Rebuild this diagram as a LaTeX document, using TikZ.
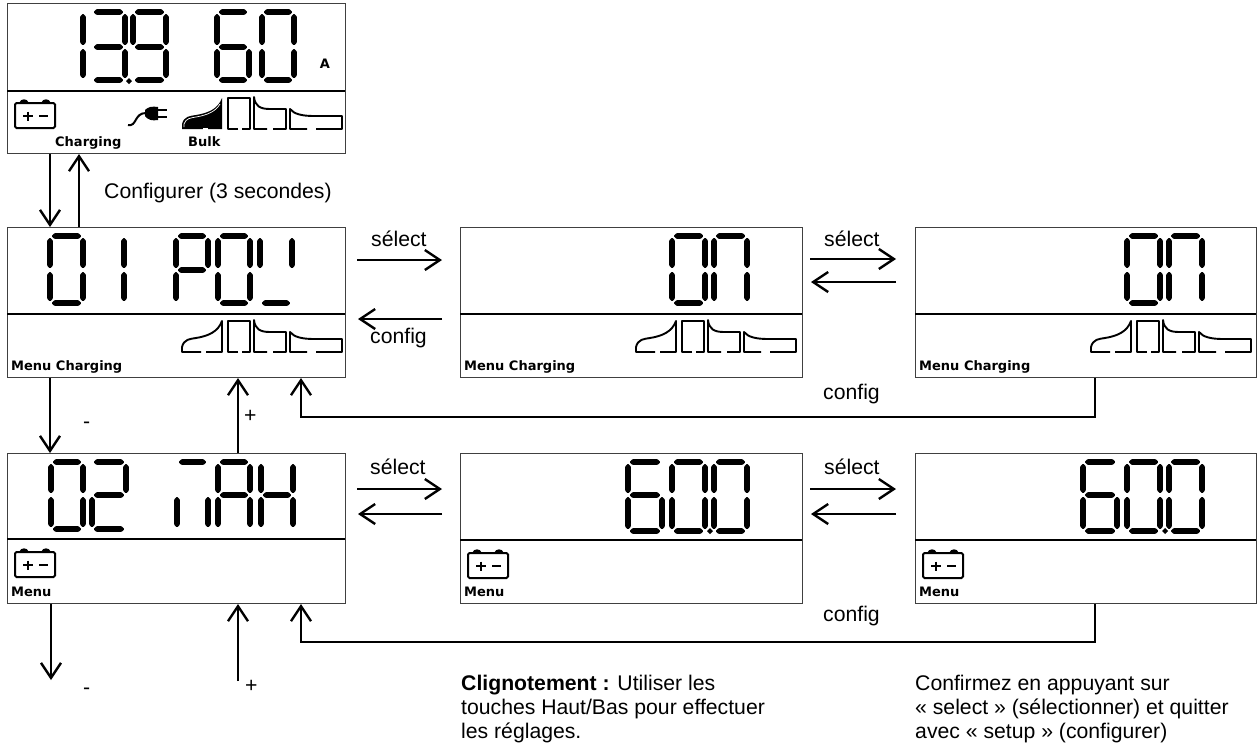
\documentclass[tikz,border=0pt]{standalone}
\usepackage{fontspec}
\setmainfont{Liberation Sans}
\newfontfamily\lcdfont{DejaVu Sans Bold}
\usetikzlibrary{arrows.meta}
\tikzset{
  panel/.style={draw=black!75,line width=1pt,inner sep=0pt,anchor=north west,fill=white,minimum width=#1,minimum height=150pt},
  sg/.style={fill=black,rounded corners=.8pt},
  conn/.style={line width=2.4pt,-{Straight Barb[length=15pt,width=20pt]}},
  divl/.style={line width=2pt},
  lbl/.style={inner sep=0pt,anchor=base west,font=\fontsize{21.2}{24}\selectfont},
  para/.style={inner sep=0pt,anchor=north west,align=left,font=\fontsize{21.2}{24}\selectfont},
  lcd/.style={inner sep=0pt,anchor=base west,font=\lcdfont\fontsize{13}{14}\selectfont},
  icon/.style={line width=1.9pt,line join=round}
}
% hexagonal LCD segments: half-thickness 2.9
\newcommand\sgv[3]{\path[sg] (#1,#2)--(#1+2.9,#2+2.9)--(#1+2.9,#3-2.9)--(#1,#3)--(#1-2.9,#3-2.9)--(#1-2.9,#2+2.9)--cycle;}
\newcommand\sgh[3]{\path[sg] (#2,#1)--(#2+2.9,#1-2.9)--(#3-2.9,#1-2.9)--(#3,#1)--(#3-2.9,#1+2.9)--(#2+2.9,#1+2.9)--cycle;}
\newcommand\segA{\sgh{\yt}{\xl+1.5}{\xr-1.5}}
\newcommand\segB{\sgv{\xr}{\yt+1.5}{\ym-1.5}}
\newcommand\segC{\sgv{\xr}{\ym+1.5}{\yb-1.5}}
\newcommand\segD{\sgh{\yb}{\xl+1.5}{\xr-1.5}}
\newcommand\segE{\sgv{\xl}{\ym+1.5}{\yb-1.5}}
\newcommand\segF{\sgv{\xl}{\yt+1.5}{\ym-1.5}}
\newcommand\segG{\sgh{\ym}{\xl+1.5}{\xr-1.5}}
\newcommand\dgt[6]{\def\xl{#1}\def\xr{#2}\def\yt{#3}\def\ym{#4}\def\yb{#5}%
  \foreach \s in {#6}{\csname seg\s\endcsname}}
\newcommand\dpt[2]{\fill (#1-3,#2)--(#1,#2-3)--(#1+3,#2)--(#1,#2+3)--cycle;}
\newcommand\batt[2]{\begin{scope}[shift={(#1,#2)}]
  \draw[line width=2pt,rounded corners=1.5pt] (0,0) rectangle (40,25);
  \fill (4,0) .. controls (6,-5) and (12,-5) .. (14,0) --cycle;
  \fill (26,0) .. controls (28,-5) and (34,-5) .. (36,0) --cycle;
  \draw[line width=2.4pt] (8,13)--(18,13) (13,8.5)--(13,17.5) (24,13)--(33,13);
\end{scope}}
\newcommand\curves[3]{\begin{scope}[shift={(#1,#2)}]
  \ifnum#3=1
    \fill (0,32)--(0,27) .. controls (2,19) and (8,19) .. (14,18) .. controls (26,16) and (36,12) .. (40,1)--(40,32)--cycle;
    \draw[white,line width=.7pt] (2,30)--(2,27) .. controls (4,21) and (9,21) .. (14,20) .. controls (26,18) and (34,14) .. (38,7);
    \fill[white] (21,30.5) rectangle (26,33);
  \else
    \draw[icon] (19,32)--(0,32)--(0,27) .. controls (2,19) and (8,19) .. (14,18) .. controls (26,16) and (36,12) .. (40,1)--(40,32)--(24,32);
  \fi
  \draw[icon] (56,32)--(46,32)--(46,1)--(68,1)--(68,32)--(60,32);
  \draw[icon] (85,32)--(72,32)--(72,0) .. controls (73,9) and (78,12) .. (88,12)--(104,12)--(104,32)--(91,32);
  \draw[icon] (125,32)--(108,32)--(108,12) .. controls (112,17) and (120,19) .. (132,19)--(160,19)--(160,32)--(134,32);
\end{scope}}
\begin{document}
\begin{tikzpicture}[x=1pt,y=-1pt]
\useasboundingbox (0,0) rectangle (1257,748);
% panels
\node[panel=338pt] (p1) at (7,3) {};
\node[panel=338pt] (p2) at (7,227) {};
\node[panel=338pt] (p3) at (7,453) {};
\node[panel=342pt] (p2m) at (460,227) {};
\node[panel=341pt] (p2r) at (915,227) {};
\node[panel=342pt] (p3m) at (460,453) {};
\node[panel=341pt] (p3r) at (915,453) {};
% dividers
\draw[divl] (7,91)--(345,91);
\draw[divl] (7,314)--(345,314);
\draw[divl] (7,539)--(345,539);
\draw[divl] (460,314)--(802,314);
\draw[divl] (915,314)--(1256,314);
\draw[divl] (460,540)--(802,540);
\draw[divl] (915,540)--(1256,540);
% panel 1 digits
\dgt{50}{83}{12}{47}{80}{B,C}
\dgt{92}{125}{12}{47}{80}{A,B,C,D,G}
\dgt{133}{166}{12}{47}{80}{A,B,C,D,F,G}
\dgt{217}{249}{12}{47}{80}{A,C,D,E,F,G}
\dgt{262}{294}{12}{47}{80}{A,B,C,D,E,F}
\dpt{129}{81}
\node[inner sep=0pt,font=\lcdfont\fontsize{13}{14}\selectfont] (unitA) at (325,64) {A};
% panel 2 digits
\dgt{50}{83}{236}{270}{303}{A,B,C,D,E,F}
\dgt{91}{124}{236}{270}{303}{B,C}
\dgt{176}{208}{236}{270}{303}{A,B,E,F,G}
\dgt{218}{250}{236}{270}{303}{A,B,C,D,E,F}
\dgt{260}{292}{236}{270}{303}{B,D,F}
% panel 3 digits
\dgt{51}{83}{462}{495}{529}{A,B,C,D,E,F}
\dgt{92}{126}{462}{495}{529}{A,B,D,E,G}
\dgt{177}{208}{462}{495}{529}{A,C,E}
\dgt{218}{250}{462}{495}{529}{A,B,C,E,F,G}
\dgt{261}{293}{462}{495}{529}{B,C,E,F,G}
% ON
\dgt{672}{705}{236}{270}{303}{A,B,C,D,E,F}
\dgt{714}{747}{236}{270}{303}{A,B,C,E,F}
\dgt{1127}{1160}{236}{270}{303}{A,B,C,D,E,F}
\dgt{1169}{1202}{236}{270}{303}{A,B,C,E,F}
% 60.0
\dgt{628}{662}{462}{495}{531}{A,C,D,E,F,G}
\dgt{672}{705}{462}{495}{531}{A,B,C,D,E,F}
\dgt{714}{747}{462}{495}{531}{A,B,C,D,E,F}
\dpt{710}{531}
\dgt{1083}{1117}{462}{495}{531}{A,C,D,E,F,G}
\dgt{1127}{1160}{462}{495}{531}{A,B,C,D,E,F}
\dgt{1169}{1202}{462}{495}{531}{A,B,C,D,E,F}
\dpt{1165}{531}
% icons
\batt{15}{103}
\batt{15}{552}
\batt{468}{553}
\batt{923}{553}
\curves{182}{97}{1}
\curves{182}{320}{0}
\curves{636}{320}{0}
\curves{1091}{320}{0}
% plug
\draw[line width=2pt] (128,125) .. controls (137,127) and (134,113) .. (146,113);
\fill (145,110) .. controls (148,107) and (152,106) .. (158,107)--(158,120) .. controls (152,121) and (148,120) .. (145,116)--cycle;
\draw[line width=2.4pt] (157,110)--(167,110) (157,117)--(167,117);
% lcd labels
\node[lcd] (t1a) at (55,146) {Charging};
\node[lcd] (t1b) at (188,146) {Bulk};
\node[lcd] (t2a) at (11,370) {Menu Charging};
\node[lcd] (t2b) at (464,370) {Menu Charging};
\node[lcd] (t2c) at (919,370) {Menu Charging};
\node[lcd] (t3a) at (11,596) {Menu};
\node[lcd] (t3b) at (464,596) {Menu};
\node[lcd] (t3c) at (919,596) {Menu};
% named x positions and free ends
\coordinate (xa) at (50,0);
\coordinate (xb) at (79,0);
\coordinate (xc) at (238,0);
\coordinate (xd) at (301,0);
\coordinate (xe) at (1095,0);
\coordinate (e1) at (51,680);
\coordinate (e2) at (238,681);
\coordinate (r1) at (357,260); \coordinate (r2) at (442,260);
\coordinate (l1) at (442,319); \coordinate (l2) at (358,319);
\coordinate (r3) at (810,259); \coordinate (r4) at (896,259);
\coordinate (l3) at (896,282); \coordinate (l4) at (811,282);
\coordinate (r5) at (357,489); \coordinate (r6) at (442,489);
\coordinate (l5) at (442,514); \coordinate (l6) at (358,514);
\coordinate (r7) at (810,489); \coordinate (r8) at (896,489);
\coordinate (l7) at (896,514); \coordinate (l8) at (811,514);
\coordinate (y1) at (0,417);
\coordinate (y2) at (0,642);
% connectors
\draw[conn] (xa |- p1.south) -- (xa |- p2.north);
\draw[conn] (xb |- p2.north) -- (xb |- p1.south);
\draw[conn] (xa |- p2.south) -- (xa |- p3.north);
\draw[conn] (xc |- p3.north) -- (xc |- p2.south);
\draw[conn] (e1 |- p3.south) -- (e1);
\draw[conn] (e2) -- (e2 |- p3.south);
\draw[conn] (r1) -- (r2);
\draw[conn] (l1) -- (l2);
\draw[conn] (r3) -- (r4);
\draw[conn] (l3) -- (l4);
\draw[conn] (r5) -- (r6);
\draw[conn] (l5) -- (l6);
\draw[conn] (r7) -- (r8);
\draw[conn] (l7) -- (l8);
\draw[conn] (xe |- p2r.south) -- (xe |- y1) -- (xd |- y1) -- (xd |- p2.south);
\draw[conn] (xe |- p3r.south) -- (xe |- y2) -- (xd |- y2) -- (xd |- p3.south);
% text
\node[lbl] (c0) at (104,198) {Configurer (3 secondes)};
\node[lbl] (s1) at (371,246) {sélect};
\node[lbl] (s2) at (824,246) {sélect};
\node[lbl] (s3) at (370,474) {sélect};
\node[lbl] (s4) at (824,474) {sélect};
\node[lbl] (c1) at (370,343) {config};
\node[lbl] (c2) at (823,399) {config};
\node[lbl] (c3) at (823,621) {config};
\node[lbl] (m1) at (83,428) {-};
\node[lbl] (m2) at (83,694) {-};
\node[lbl] (p1l) at (244,422) {+};
\node[lbl] (p2l) at (245,692) {+};
\node[para] (n1) at (461,675) {\textbf{Clignotement :} Utiliser les\\touches Haut/Bas pour effectuer\\les réglages.};
\node[para] (n2) at (915,675) {Confirmez en appuyant sur\\« select » (sélectionner) et quitter\\avec « setup » (configurer)};
\end{tikzpicture}
\end{document}
